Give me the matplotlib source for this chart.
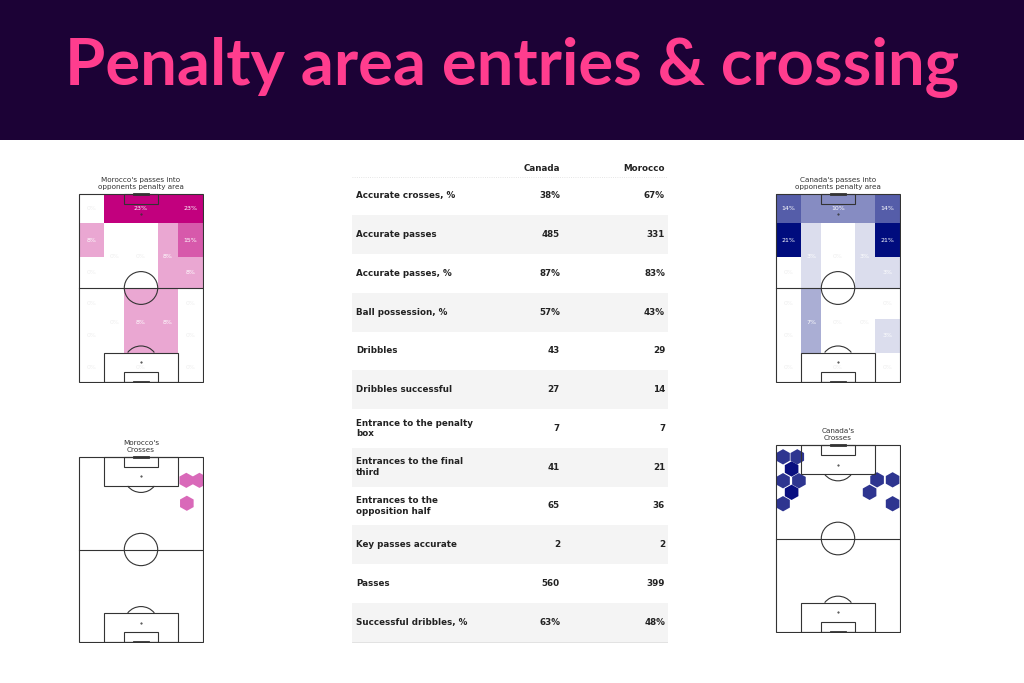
import numpy as np
import matplotlib
matplotlib.use("Agg")
import matplotlib.pyplot as plt
import matplotlib.patches as patches
from matplotlib.colors import LinearSegmentedColormap

# ---- data ----
title = "Penalty area entries & crossing"
teams = ["Canada", "Morocco"]

stat_names = ["Accurate crosses, %", "Accurate passes", "Accurate passes, %",
              "Ball possession, %", "Dribbles", "Dribbles successful",
              "Entrance to the penalty\nbox", "Entrances to the final\nthird",
              "Entrances to the\nopposition half", "Key passes accurate",
              "Passes", "Successful dribbles, %"]
canada_stats = ["38%", "485", "87%", "57%", "43", "27", "7", "41", "65", "2", "560", "63%"]
morocco_stats = ["67%", "331", "83%", "43%", "29", "14", "7", "21", "36", "2", "399", "48%"]

# zone shares (%) for passes into the penalty area, zone order defined below
morocco_zones = [0, 23, 23, 8, 15, 0, 0, 8, 0, 8, 0, 0, 0, 8, 8, 0, 0, 0, 0, 0]
canada_zones = [14, 10, 14, 21, 21, 3, 0, 3, 0, 3, 0, 0, 7, 0, 0, 0, 3, 0, 0, 0]

# cross hexbin centres (x across 0-68, y along 0-105) and counts
morocco_cross_x = [58.8, 66.0, 59.1]
morocco_cross_y = [91.7, 91.7, 78.7]
morocco_cross_n = [1, 1, 1]
canada_cross_x = [3.9, 11.7, 8.6, 3.9, 12.6, 8.6, 3.9, 55.4, 63.9, 51.3, 63.9]
canada_cross_y = [98.3, 98.3, 91.5, 84.9, 84.9, 78.4, 72.0, 85.4, 85.4, 78.4, 72.0]
canada_cross_n = [1, 1, 2, 1, 1, 2, 1, 1, 1, 1, 1]

# ---- layout ----
W, L = 68, 105
xb = [0, 13.85, 24.84, 43.16, 54.15, 68]
zones = [  # x0, x1, y0, y1, label y
    (xb[0], xb[1], 88.5, 105, None), (xb[1], xb[4], 88.5, 105, None), (xb[4], xb[5], 88.5, 105, None),
    (xb[0], xb[1], 70, 88.5, None), (xb[4], xb[5], 70, 88.5, None),
    (xb[1], xb[2], 52.5, 88.5, 70), (xb[2], xb[3], 52.5, 88.5, 70), (xb[3], xb[4], 52.5, 88.5, 70),
    (xb[0], xb[1], 52.5, 70, None), (xb[4], xb[5], 52.5, 70, None),
    (xb[0], xb[1], 35, 52.5, None), (xb[4], xb[5], 35, 52.5, None),
    (xb[1], xb[2], 16.5, 52.5, 33.5), (xb[2], xb[3], 16.5, 52.5, 33.5), (xb[3], xb[4], 16.5, 52.5, 33.5),
    (xb[0], xb[1], 16.5, 35, None), (xb[4], xb[5], 16.5, 35, None),
    (xb[0], xb[1], 0, 16.5, None), (xb[1], xb[4], 0, 16.5, None), (xb[4], xb[5], 0, 16.5, None),
]

FW, FH = 1024, 683
fig = plt.figure(figsize=(10.24, 6.83), dpi=100)
fig.patch.set_facecolor("white")


def px_axes(x0, y0, x1, y1):
    return fig.add_axes([x0 / FW, 1 - y1 / FH, (x1 - x0) / FW, (y1 - y0) / FH])


# header band
hdr = px_axes(0, 0, FW, 140)
hdr.set_facecolor("#1c0236")
hdr.set_xticks([]); hdr.set_yticks([])
for s in hdr.spines.values():
    s.set_visible(False)
hdr.text(0.5, 0.52, title, ha="center", va="center", color="#ff3d8e",
         fontsize=47, fontweight="bold", family="Lato")


def draw_pitch(ax, top_box=True):
    lc, lw = "#333333", 0.8
    ax.add_patch(patches.Rectangle((0, 0), W, L, fill=False, ec=lc, lw=lw, zorder=3))
    ax.plot([0, W], [L / 2, L / 2], color=lc, lw=lw, zorder=3)
    ax.add_patch(patches.Circle((W / 2, L / 2), 9.15, fill=False, ec=lc, lw=lw, zorder=3))
    for y0, sgn in [(0, 1), (L, -1)]:
        if top_box or y0 == 0:
            ax.add_patch(patches.Rectangle((W / 2 - 20.16, y0), 40.32, sgn * 16.5,
                                           fill=False, ec=lc, lw=lw, zorder=3))
            ax.add_patch(patches.Arc((W / 2, y0 + sgn * 11), 18.3, 18.3,
                                     theta1=37 if sgn == 1 else 217,
                                     theta2=143 if sgn == 1 else 323, ec=lc, lw=lw, zorder=3))
        ax.add_patch(patches.Rectangle((W / 2 - 9.16, y0), 18.32, sgn * 5.5,
                                       fill=False, ec=lc, lw=lw, zorder=3))
        ax.plot([W / 2 - 3.66, W / 2 + 3.66], [y0, y0], color=lc, lw=2, zorder=3)
        ax.plot(W / 2, y0 + sgn * 11, marker=".", ms=1, color=lc, zorder=3)
    ax.set_xlim(-0.5, W + 0.5)
    ax.set_ylim(-0.5, L + 0.5)
    ax.axis("off")


def zone_pitch(box, label, values, color):
    ax = px_axes(*box)
    cmap = LinearSegmentedColormap.from_list("c", ["#ffffff", color])
    vmax = max(values)
    for (x0, x1, y0, y1, ly), v in zip(zones, values):
        fc = cmap(v / vmax * 0.999) if v > 0 else "white"
        ax.add_patch(patches.Rectangle((x0, y0), x1 - x0, y1 - y0, fc=fc, ec="none", zorder=1))
        ty = ly if ly is not None else (y0 + y1) / 2
        ax.text((x0 + x1) / 2, ty, f"{v}%", ha="center", va="center",
                fontsize=4.5, color="#eeeeee" if v == 0 else "white", zorder=4)
    draw_pitch(ax, top_box=False)
    ax.set_title(label, fontsize=5.2, color="#333333", pad=3)


def cross_pitch(box, label, xs, ys, ns, colors):
    ax = px_axes(*box)
    draw_pitch(ax)
    for x, y, n in zip(xs, ys, ns):
        ax.add_patch(patches.RegularPolygon((x, y), 6, radius=4.3, orientation=0,
                                            fc=colors[n - 1], ec="none", zorder=2, clip_on=True))
    ax.set_title(label, fontsize=5.2, color="#333333", pad=3)


zone_pitch((78, 193, 204, 383), "Morocco's passes into\nopponents penalty area",
           morocco_zones, "#c2007e")
zone_pitch((775, 193, 901, 383), "Canada's passes into\nopponents penalty area",
           canada_zones, "#000c7e")
cross_pitch((78, 456, 204, 643), "Morocco's\nCrosses",
            morocco_cross_x, morocco_cross_y, morocco_cross_n, ["#d969b9", "#c2007e"])
cross_pitch((775, 444, 901, 633), "Canada's\nCrosses",
            canada_cross_x, canada_cross_y, canada_cross_n, ["#2e3590", "#0a0f80"])

# table
tab = px_axes(352, 155, 668, 645)
tab.set_xlim(352, 668)
tab.set_ylim(645, 155)
tab.axis("off")
top, rh = 176.5, 38.75
tab.text(560, 168, teams[0], ha="right", va="center", fontsize=6.3, fontweight="bold", color="#222222")
tab.text(665, 168, teams[1], ha="right", va="center", fontsize=6.3, fontweight="bold", color="#222222")
tab.plot([352, 668], [top, top], color="#dddddd", lw=0.6, ls=":")
for i, (name, c, m) in enumerate(zip(stat_names, canada_stats, morocco_stats)):
    y0 = top + i * rh
    if i % 2 == 1:
        tab.add_patch(patches.Rectangle((352, y0), 316, rh, fc="#f4f4f4", ec="none"))
    yc = y0 + rh / 2
    tab.text(356, yc, name, ha="left", va="center", fontsize=6.3, fontweight="bold",
             color="#222222", linespacing=1.2)
    tab.text(560, yc, c, ha="right", va="center", fontsize=6.3, fontweight="bold", color="#222222")
    tab.text(665, yc, m, ha="right", va="center", fontsize=6.3, fontweight="bold", color="#222222")
tab.plot([352, 668], [top + 12 * rh, top + 12 * rh], color="#dddddd", lw=0.6)

fig.savefig("out.png", dpi=100)
